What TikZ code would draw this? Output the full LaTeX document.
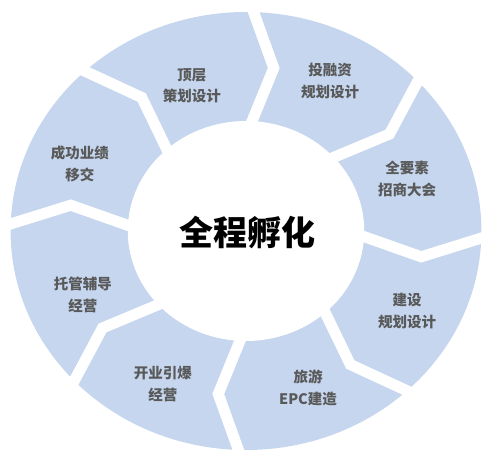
\documentclass[tikz,border=0pt]{standalone}
\usepackage{fontspec}
\newfontfamily\cjk{Noto Sans CJK SC}
\definecolor{ringblue}{HTML}{C5D6EE}
\definecolor{labelgray}{HTML}{595959}
\tikzset{
  stage/.style={align=center,text=labelgray,font=\cjk\bfseries\fontsize{14.5}{21.5}\selectfont},
  cut/.style={draw=white,line width=11pt,line join=miter}
}
\begin{document}
\begin{tikzpicture}[line cap=butt,x=1pt,y=1pt]
	\useasboundingbox (-246,-234) rectangle (252,231);
	\begin{scope}[xscale=1.075]
		% Anneau
		\fill[ringblue] (0,0) circle (219);
		\fill[white] (0,0) circle (110);
		% Coupures
		\draw[cut] (90:240)--(81:165)--(90:95);
		\draw[cut] (45:240)--(36:165)--(45:95);
		\draw[cut] (0:240)--(-9:165)--(0:95);
		\draw[cut] (-45:240)--(-54:165)--(-45:95);
		\draw[cut] (-90:240)--(-99:165)--(-90:95);
		\draw[cut] (-135:240)--(-144:165)--(-135:95);
		\draw[cut] (180:240)--(171:165)--(180:95);
		\draw[cut] (135:240)--(126:165)--(135:95);
	\end{scope}
	% Centre
	\node[font=\cjk\bfseries\fontsize{34}{40}\selectfont] (centre) at (2,-2) {全程孵化};
	% Etapes
	\node[stage] (dingceng) at (-54,145) {顶层\\策划设计};
	\node[stage] (tourongzi) at (84,150) {投融资\\规划设计};
	\node[stage] (zhaoshang) at (161,52) {全要素\\招商大会};
	\node[stage] (jianshe) at (161,-80) {建设\\规划设计};
	\node[stage] (lvyou) at (62,-157) {旅游\\EPC建造};
	\node[stage] (kaiye) at (-83,-153) {开业引爆\\经营};
	\node[stage] (tuoguan) at (-163,-64) {托管辅导\\经营};
	\node[stage] (yiji) at (-166,67) {成功业绩\\移交};
\end{tikzpicture}
\end{document}
